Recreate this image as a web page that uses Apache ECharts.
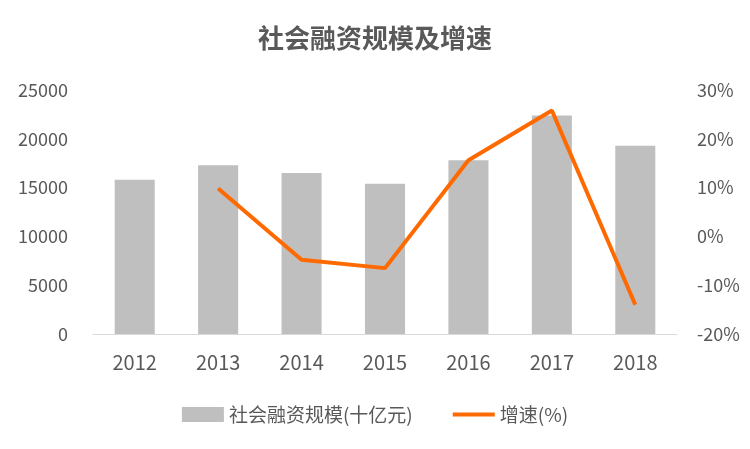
<!DOCTYPE html>
<html><head><meta charset="utf-8">
<script src="https://cdn.jsdelivr.net/npm/echarts@6/dist/echarts.min.js"></script>
<style>html,body{margin:0;padding:0;background:#fff}#c{width:750px;height:449px}</style>
</head><body><div id="c"></div>
<script>
const categories=['2012','2013','2014','2015','2016','2017','2018'];
const scale=[15800,17300,16500,15400,17800,22400,19300];
const growth=[null,9.8,-4.8,-6.5,15.6,25.8,-14.0];
const leftTicks={min:0,max:25000,interval:5000};
const rightTicks={min:-20,max:30,interval:10};
const font='"Microsoft YaHei","Noto Sans CJK SC",sans-serif';
const chart=echarts.init(document.getElementById('c'));
chart.setOption({
 title:{text:'社会融资规模及增速',left:'center',top:20,textStyle:{fontSize:26,fontWeight:'bold',color:'#595959',fontFamily:font}},
 grid:{left:93,right:73,top:90,bottom:115},
 legend:{bottom:20,itemGap:40,textStyle:{fontSize:19,color:'#595959',fontFamily:font},
  data:[{name:'社会融资规模(十亿元)',icon:'rect'},{name:'增速(%)',icon:'path://M0,0H10V1H0Z'}],itemWidth:42,itemHeight:15},
 xAxis:{type:'category',data:categories,axisTick:{show:false},axisLine:{lineStyle:{color:'#d9d9d9'}},
  axisLabel:{fontSize:20,color:'#595959',margin:18,fontFamily:font}},
 yAxis:[{type:'value',...leftTicks,splitLine:{show:false},axisLabel:{fontSize:18,color:'#595959',margin:25,fontFamily:font,formatter:v=>String(v)}},
  {type:'value',...rightTicks,splitLine:{show:false},axisLabel:{fontSize:18,color:'#595959',margin:20,formatter:'{value}%',fontFamily:font}}],
 series:[{name:'社会融资规模(十亿元)',type:'bar',data:scale,barWidth:'48%',itemStyle:{color:'#bfbfbf'}},
  {name:'增速(%)',type:'line',yAxisIndex:1,data:growth,symbol:'none',lineStyle:{color:'#ff6a00',width:4},itemStyle:{color:'#ff6a00'}}]
});
</script></body></html>
